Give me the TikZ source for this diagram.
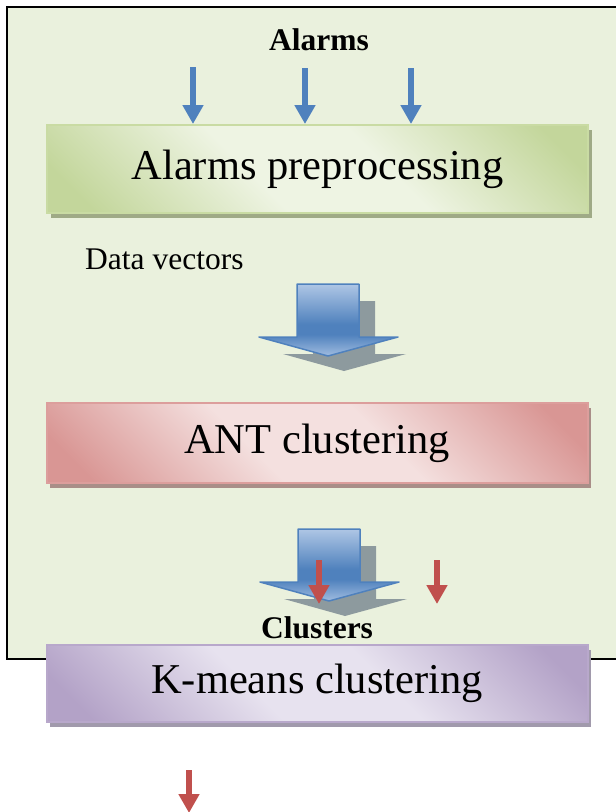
\documentclass[tikz,border=0pt]{standalone}
\usepackage{fontspec}
\setmainfont{Liberation Serif}
\usetikzlibrary{arrows.meta,shadows}
\definecolor{framefill}{HTML}{EAF1DD}
\definecolor{gD}{HTML}{C3D69B}
\definecolor{gL}{HTML}{EEF4E3}
\definecolor{gB}{HTML}{C9DBA3}
\definecolor{gS}{HTML}{9FAA86}
\definecolor{rD}{HTML}{D99694}
\definecolor{rL}{HTML}{F4E0DF}
\definecolor{rB}{HTML}{DC9E9C}
\definecolor{rS}{HTML}{A98E88}
\definecolor{pD}{HTML}{B3A2C7}
\definecolor{pL}{HTML}{E7E2EF}
\definecolor{pB}{HTML}{B8A8CB}
\definecolor{pS}{HTML}{A19AAC}
\definecolor{bD}{HTML}{4F81BD}
\definecolor{bL}{HTML}{A0BCE0}
\definecolor{rA}{HTML}{C0504D}
\definecolor{shadowgray}{HTML}{8D9A9E}
\pgfdeclareverticalshading{greenshade}{100bp}{color(0bp)=(gD); color(20bp)=(gD); color(42bp)=(gL); color(58bp)=(gL); color(80bp)=(gD); color(100bp)=(gD)}
\pgfdeclareverticalshading{redshade}{100bp}{color(0bp)=(rD); color(20bp)=(rD); color(42bp)=(rL); color(58bp)=(rL); color(80bp)=(rD); color(100bp)=(rD)}
\pgfdeclareverticalshading{purpleshade}{100bp}{color(0bp)=(pD); color(20bp)=(pD); color(42bp)=(pL); color(58bp)=(pL); color(80bp)=(pD); color(100bp)=(pD)}
\pgfdeclareverticalshading{blueshade}{100bp}{color(0bp)=(bL); color(25bp)=(bL); color(40bp)=(bD); color(47bp)=(bD); color(75bp)=(bL!85!white); color(100bp)=(bL!85!white)}
\tikzset{
  procbox/.style={rectangle, line width=2pt, minimum width=541pt, inner sep=0pt,
    shading angle=-45, font=\fontsize{42.5}{50}\selectfont},
  lbl/.style={inner sep=0pt, font=\fontsize{31.5}{36}\selectfont},
  bluesmall/.style={draw=bD, line width=6.5pt, -{Triangle[width=20pt,length=19pt]}},
  redsmall/.style={draw=rA, line width=6.5pt, -{Triangle[width=20pt,length=19pt]}},
  blockarrow/.pic={
    \fill[shadowgray] (16,17) -- (78,17) -- (78,70) -- (109,70) -- (47,87) -- (-14,70) -- (16,70) -- cycle;
    \shadedraw[shading=blueshade, draw=bD, line width=1.5pt, line join=round]
      (0,0) -- (62,0) -- (62,53) -- (101,53) -- (31,72) -- (-38,53) -- (0,53) -- cycle;
  }
}
\begin{document}
\begin{tikzpicture}[x=1pt,y=-1pt]
\useasboundingbox (0,0) rectangle (616,812);
% outer frame
\draw[fill=framefill, line width=1.5pt] (7,7) rectangle (640,659);

% labels
\node[lbl, font=\fontsize{31.5}{36}\selectfont\bfseries, anchor=base] (alarms) at (319,50) {Alarms};
\node[lbl, anchor=base west] (datavec) at (85,269) {Data vectors};
\node[lbl, font=\fontsize{31.5}{36}\selectfont\bfseries, anchor=base] (clusters) at (317,638) {Clusters};

% boxes
\node[procbox, minimum height=88pt, shading=greenshade, draw=gB,
  drop shadow={shadow xshift=3.5pt, shadow yshift=-4.5pt, fill=gS, opacity=1}]
  (pre) at (317.5,169) {Alarms preprocessing};
\node[procbox, minimum height=80pt, shading=redshade, draw=rB,
  drop shadow={shadow xshift=3.5pt, shadow yshift=-4.5pt, fill=rS, opacity=1}]
  (ant) at (317,443) {ANT clustering};
\node[procbox, minimum height=77pt, shading=purpleshade, draw=pB,
  drop shadow={shadow xshift=3.5pt, shadow yshift=-4.5pt, fill=pS, opacity=1}]
  (kmeans) at (317,683.5) {K-means clustering};

% incoming alarm arrows
\coordinate (in1) at (193,67);  \coordinate (in1e) at (193,124);
\coordinate (in2) at (305,68);  \coordinate (in2e) at (305,124);
\coordinate (in3) at (411,68);  \coordinate (in3e) at (411,124);
\draw[bluesmall] (in1) -- (in1e);
\draw[bluesmall] (in2) -- (in2e);
\draw[bluesmall] (in3) -- (in3e);

% block arrows
\coordinate (blk1) at (297,284);
\coordinate (blk2) at (298,529);
\pic at (blk1) {blockarrow};
\pic at (blk2) {blockarrow};

% red arrows
\coordinate (r1) at (319,560); \coordinate (r1e) at (319,604);
\coordinate (r2) at (437,560); \coordinate (r2e) at (437,604);
\coordinate (r3) at (189,770); \coordinate (r3e) at (189,813);
\draw[redsmall] (r1) -- (r1e);
\draw[redsmall] (r2) -- (r2e);
\draw[redsmall] (r3) -- (r3e);
\end{tikzpicture}
\end{document}
